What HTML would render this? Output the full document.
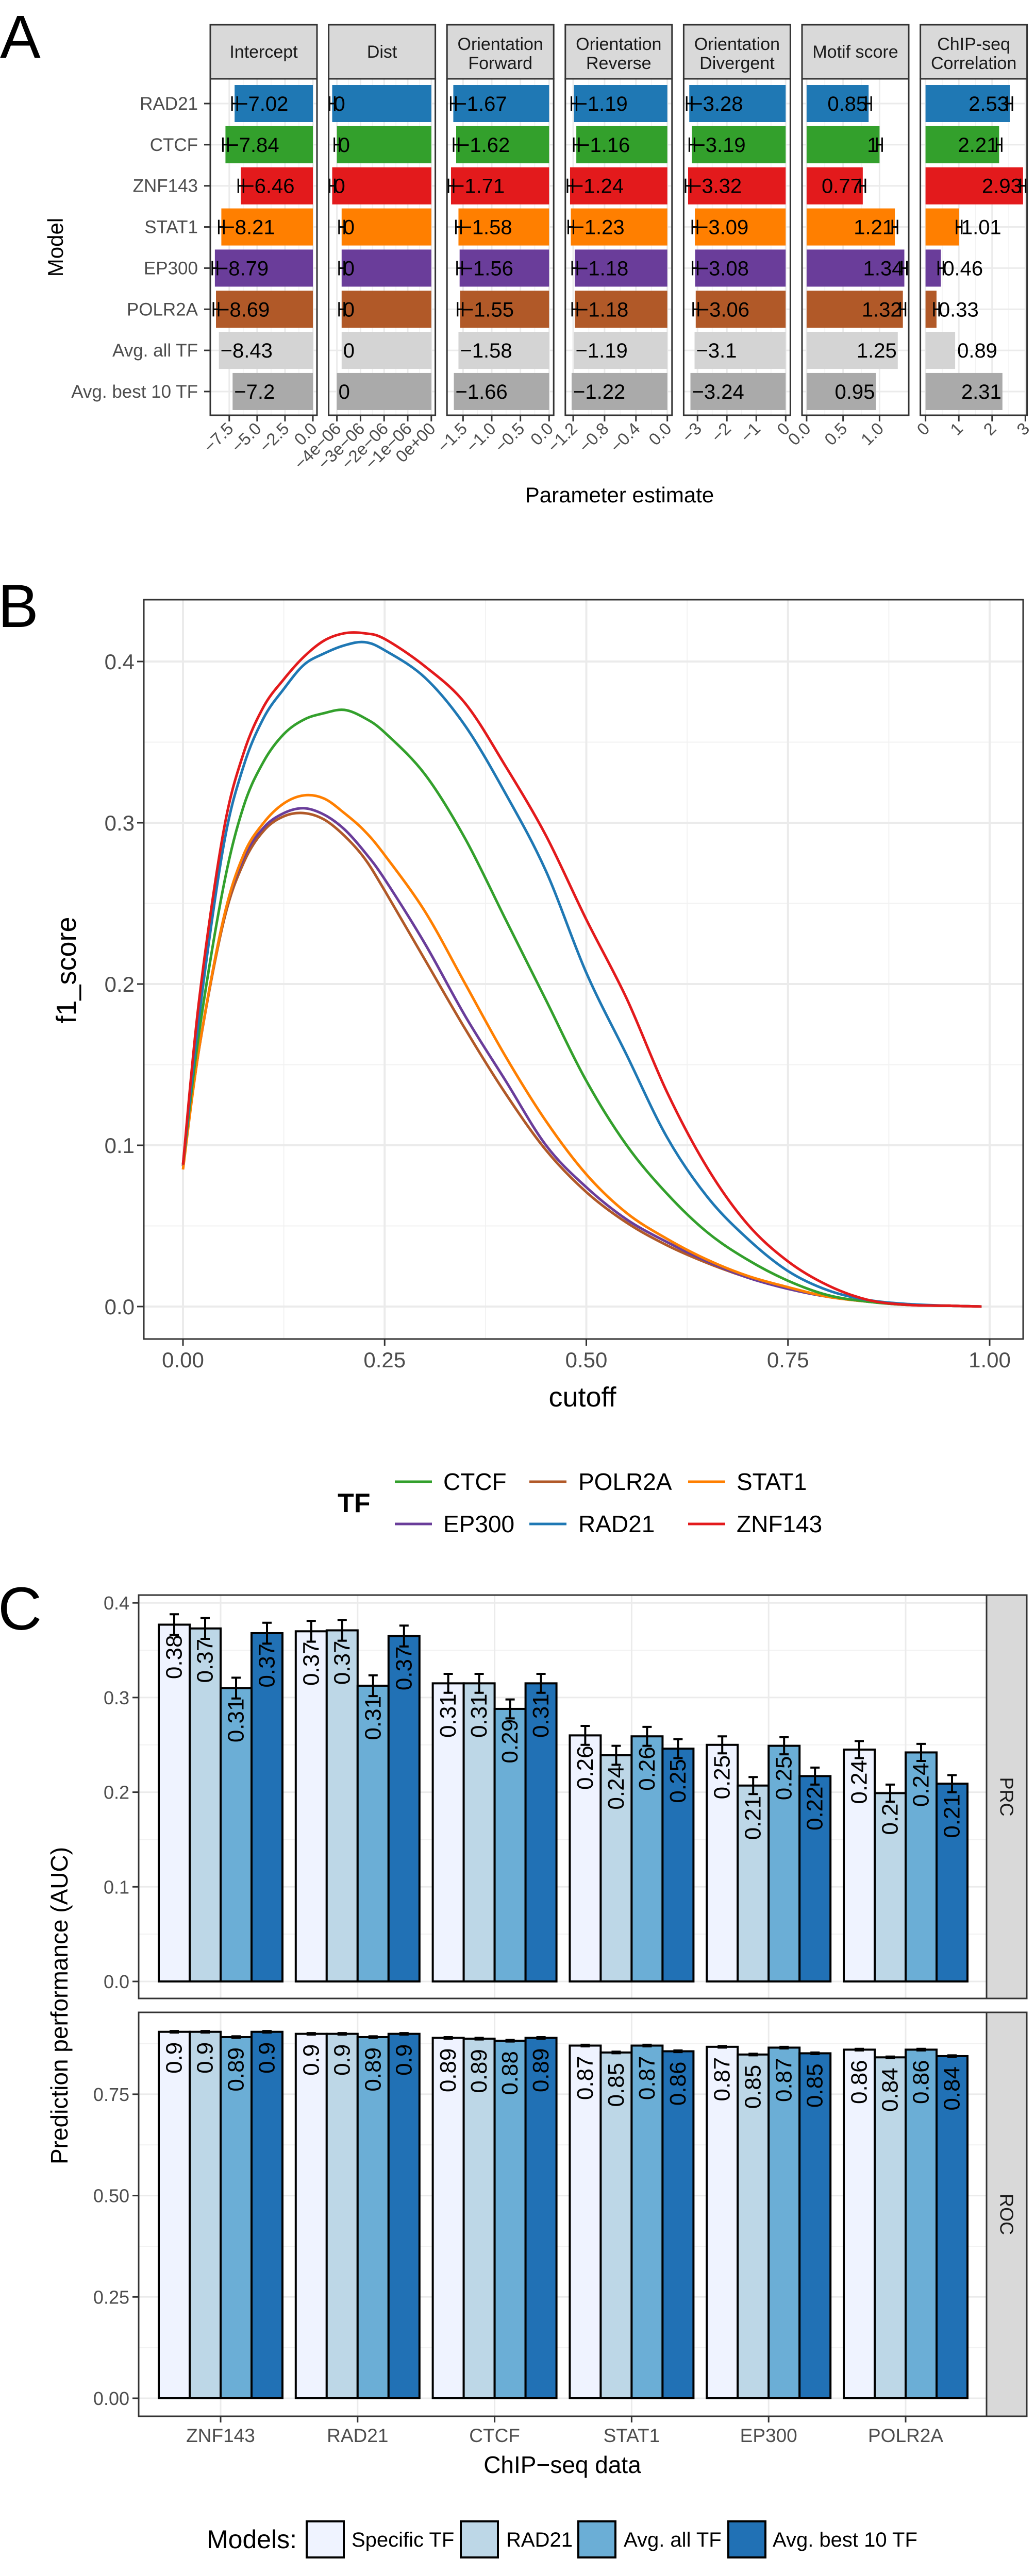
<!DOCTYPE html>
<html><head><meta charset="utf-8">
<style>
html,body{margin:0;padding:0;background:#fff;width:2008px;height:5008px;overflow:hidden;}
svg{display:block;font-family:"Liberation Sans",sans-serif;}
</style></head>
<body>
<svg id="fig" width="2008" height="5008" viewBox="0 0 2008 5008" xmlns="http://www.w3.org/2000/svg">
<rect x="0" y="0" width="2008" height="5008" fill="#fff"/>
<g id="pa"></g>
<g id="pb"></g>
<g id="pc"></g>
</svg>
<script>
// ===== Panel A data =====
const aRows = ["RAD21","CTCF","ZNF143","STAT1","EP300","POLR2A","Avg. all TF","Avg. best 10 TF"];
const aFacets = ["Intercept","Dist","Orientation|Forward","Orientation|Reverse","Orientation|Divergent","Motif score","ChIP-seq|Correlation"];
const aIntercept = [-7.02,-7.84,-6.46,-8.21,-8.79,-8.69,-8.43,-7.2];
const aDist = [-4.2e-6,-4.0e-6,-4.2e-6,-3.8e-6,-3.8e-6,-3.8e-6,-3.8e-6,-4.0e-6];
const aOrientF = [-1.67,-1.62,-1.71,-1.58,-1.56,-1.55,-1.58,-1.66];
const aOrientR = [-1.19,-1.16,-1.24,-1.23,-1.18,-1.18,-1.19,-1.22];
const aOrientD = [-3.28,-3.19,-3.32,-3.09,-3.08,-3.06,-3.1,-3.24];
const aMotif = [0.85,1,0.77,1.21,1.34,1.32,1.25,0.95];
const aChip = [2.53,2.21,2.93,1.01,0.46,0.33,0.89,2.31];
const aDistLabels = ["0","0","0","0","0","0","0","0"];
const aTicksIntercept = [-7.5,-5,-2.5,0];
const aTickLabIntercept = ["−7.5","−5.0","−2.5","0.0"];
const aTicksDist = [-4e-6,-3e-6,-2e-6,-1e-6,0];
const aTickLabDist = ["−4e−06","−3e−06","−2e−06","−1e−06","0e+00"];
const aTicksOF = [-1.5,-1,-0.5,0];
const aTickLabOF = ["−1.5","−1.0","−0.5","0.0"];
const aTicksOR = [-1.2,-0.8,-0.4,0];
const aTickLabOR = ["−1.2","−0.8","−0.4","0.0"];
const aTicksOD = [-3,-2,-1,0];
const aTickLabOD = ["−3","−2","−1","0"];
const aTicksMotif = [0,0.5,1];
const aTickLabMotif = ["0.0","0.5","1.0"];
const aTicksChip = [0,1,2,3];
const aTickLabChip = ["0","1","2","3"];

// ===== Panel B data =====
const bCutoff = [0,0.02,0.05,0.075,0.1,0.125,0.15,0.175,0.2,0.225,0.25,0.3,0.35,0.4,0.45,0.5,0.55,0.6,0.65,0.7,0.75,0.8,0.85,0.9,0.95,0.99];
const bCTCF = [0.088,0.17,0.26,0.31,0.338,0.355,0.364,0.368,0.37,0.365,0.356,0.33,0.29,0.24,0.19,0.14,0.1,0.07,0.046,0.029,0.016,0.007,0.003,0.001,0.0005,0];
const bPOLR2A = [0.087,0.16,0.238,0.275,0.295,0.304,0.306,0.302,0.292,0.278,0.258,0.215,0.172,0.132,0.097,0.071,0.052,0.038,0.027,0.018,0.011,0.006,0.003,0.001,0.0005,0];
const bSTAT1 = [0.085,0.16,0.24,0.28,0.3,0.312,0.317,0.315,0.306,0.295,0.28,0.245,0.2,0.155,0.115,0.082,0.058,0.042,0.029,0.019,0.012,0.006,0.003,0.001,0.0005,0];
const bEP300 = [0.087,0.16,0.24,0.278,0.297,0.306,0.309,0.305,0.296,0.282,0.265,0.225,0.18,0.14,0.1,0.074,0.054,0.04,0.028,0.018,0.011,0.006,0.003,0.001,0.0005,0];
const bRAD21 = [0.088,0.18,0.285,0.335,0.365,0.383,0.398,0.405,0.41,0.412,0.407,0.39,0.36,0.318,0.27,0.207,0.156,0.105,0.068,0.042,0.022,0.01,0.004,0.0015,0.0005,0];
const bZNF143 = [0.088,0.19,0.294,0.343,0.372,0.389,0.403,0.413,0.4175,0.4175,0.414,0.397,0.374,0.335,0.292,0.24,0.191,0.133,0.086,0.051,0.028,0.013,0.004,0.001,0.0005,0];
const bXTicks = [0,0.25,0.5,0.75,1];
const bXTickLabels = ["0.00","0.25","0.50","0.75","1.00"];
const bYTicks = [0,0.1,0.2,0.3,0.4];
const bYTickLabels = ["0.0","0.1","0.2","0.3","0.4"];

// ===== Panel C data =====
const cGroups = ["ZNF143","RAD21","CTCF","STAT1","EP300","POLR2A"];
const cModels = ["Specific TF","RAD21","Avg. all TF","Avg. best 10 TF"];
const cPrcSpecific = [0.377,0.370,0.315,0.260,0.250,0.245];
const cPrcRad21 = [0.373,0.371,0.315,0.239,0.207,0.199];
const cPrcAvgAll = [0.310,0.3125,0.288,0.259,0.249,0.242];
const cPrcBest10 = [0.368,0.365,0.315,0.246,0.217,0.209];
const cPrcErr = [0.011,0.011,0.010,0.010,0.009,0.009];
const cPrcLabSpecific = ["0.38","0.37","0.31","0.26","0.25","0.24"];
const cPrcLabRad21 = ["0.37","0.37","0.31","0.24","0.21","0.2"];
const cPrcLabAvgAll = ["0.31","0.31","0.29","0.26","0.25","0.24"];
const cPrcLabBest10 = ["0.37","0.37","0.31","0.25","0.22","0.21"];
const cRocSpecific = [0.904,0.899,0.889,0.870,0.867,0.860];
const cRocRad21 = [0.904,0.899,0.887,0.853,0.848,0.841];
const cRocAvgAll = [0.891,0.891,0.882,0.870,0.865,0.860];
const cRocBest10 = [0.904,0.899,0.889,0.856,0.851,0.844];
const cRocErr = [0.002,0.002,0.002,0.002,0.002,0.002];
const cRocLabSpecific = ["0.9","0.9","0.89","0.87","0.87","0.86"];
const cRocLabRad21 = ["0.9","0.9","0.89","0.85","0.85","0.84"];
const cRocLabAvgAll = ["0.89","0.89","0.88","0.87","0.87","0.86"];
const cRocLabBest10 = ["0.9","0.9","0.89","0.86","0.85","0.84"];
const cPrcTicks = [0,0.1,0.2,0.3,0.4];
const cPrcTickLabels = ["0.0","0.1","0.2","0.3","0.4"];
const cRocTicks = [0,0.25,0.5,0.75];
const cRocTickLabels = ["0.00","0.25","0.50","0.75"];

const NS = "http://www.w3.org/2000/svg";
function mk(parent, tag, attrs, text){
  const e = document.createElementNS(NS, tag);
  for (const k in attrs) e.setAttribute(k, attrs[k]);
  if (text !== undefined) e.textContent = text;
  parent.appendChild(e);
  return e;
}

// ================= PANEL A =================
(function(){
  const g = document.getElementById('pa');
  const rowColors = ["#1f78b4","#33a02c","#e31a1c","#ff7f00","#6a3d9a","#b15928","#d4d4d4","#aaaaaa"];
  const vals = [aIntercept,aDist,aOrientF,aOrientR,aOrientD,aMotif,aChip];
  const ticks = [aTicksIntercept,aTicksDist,aTicksOF,aTicksOR,aTicksOD,aTicksMotif,aTicksChip];
  const tlabs = [aTickLabIntercept,aTickLabDist,aTickLabOF,aTickLabOR,aTickLabOD,aTickLabMotif,aTickLabChip];
  const domains = [[-9.2,0.37],[-4.35e-6,0.17e-6],[-1.78,0.08],[-1.30,0.06],[-3.47,0.16],[-0.063,1.40],[-0.155,3.05]];
  const top = 153, bottom = 806, stripTop = 48, pw = 207, step = 229.6, x0 = 408;
  const rowY = i => 201 + i*79.85;
  const barH = 72;
  let t = mk(g,'text',{x:0,y:112,'font-size':118,fill:'#000'},'A');
   
  aRows.forEach((r,i)=>{
    let l = mk(g,'text',{x:384,y:rowY(i)+12,'font-size':35,fill:'#4d4d4d','text-anchor':'end'},r);
     
    mk(g,'line',{x1:396,x2:408,y1:rowY(i),y2:rowY(i),stroke:'#333','stroke-width':3});
  });
  let yt = mk(g,'text',{x:0,y:0,'font-size':42,fill:'#000','text-anchor':'middle',transform:'translate(122,480) rotate(-90)'},'Model');
   
  let xt = mk(g,'text',{x:1202,y:975,'font-size':42,fill:'#000','text-anchor':'middle'},'Parameter estimate');
   

  aFacets.forEach((f,fi)=>{
    const px = x0 + fi*step;
    const [d0,d1] = domains[fi];
    const X = v => px + (v-d0)/(d1-d0)*pw;
    const fg = mk(g,'g',{});
     
    mk(fg,'rect',{x:px,y:stripTop,width:pw,height:top-stripTop,fill:'#d9d9d9',stroke:'#333','stroke-width':3});
    const parts = f.split('|');
    parts.forEach((p,pi)=>{
      const yy = parts.length===1 ? 112 : 97 + pi*37;
      let st = mk(fg,'text',{x:px+pw/2,y:yy,'font-size':34,fill:'#1a1a1a','text-anchor':'middle'},p);
       
    });
    mk(fg,'rect',{x:px,y:top,width:pw,height:bottom-top,fill:'#fff'});
    const tk = ticks[fi];
    for (let k=0;k<tk.length-1;k++){
      const m = X((tk[k]+tk[k+1])/2);
      mk(fg,'line',{x1:m,x2:m,y1:top,y2:bottom,stroke:'#f2f2f2','stroke-width':1.5});
    }
    tk.forEach(v=>mk(fg,'line',{x1:X(v),x2:X(v),y1:top,y2:bottom,stroke:'#ebebeb','stroke-width':3}));
    aRows.forEach((r,i)=>mk(fg,'line',{x1:px,x2:px+pw,y1:rowY(i),y2:rowY(i),stroke:'#ebebeb','stroke-width':3}));
    vals[fi].forEach((v,i)=>{
      const a = X(Math.min(0,v)), b = X(Math.max(0,v));
      const bar = mk(fg,'rect',{x:a,y:rowY(i)-barH/2,width:b-a,height:barH,fill:rowColors[i]});
      
      
      if (i<6){
        const xv = X(v);
        mk(fg,'line',{x1:xv-5,x2:xv+5,y1:rowY(i),y2:rowY(i),stroke:'#000','stroke-width':3});
        mk(fg,'line',{x1:xv-5,x2:xv-5,y1:rowY(i)-14,y2:rowY(i)+14,stroke:'#000','stroke-width':3});
        mk(fg,'line',{x1:xv+5,x2:xv+5,y1:rowY(i)-14,y2:rowY(i)+14,stroke:'#000','stroke-width':3});
      }
      let lab = fi===1 ? aDistLabels[i] : String(v).replace('-','−');
      let anchor, lx;
      if (v<0){anchor='start'; lx=X(v)+3;}
      else if (fi===6 && v<1.5){anchor='start'; lx=X(v)+4;}
      else {anchor='end'; lx=X(v)-2;}
      let tl = mk(fg,'text',{x:lx,y:rowY(i)+14,'font-size':40,fill:'#000','text-anchor':anchor},lab);
       
    });
    mk(fg,'rect',{x:px,y:top,width:pw,height:bottom-top,fill:'none',stroke:'#333','stroke-width':3});
    tk.forEach((v,k)=>{
      mk(fg,'line',{x1:X(v),x2:X(v),y1:bottom,y2:bottom+12,stroke:'#333','stroke-width':3});
      let tt = mk(fg,'text',{x:0,y:0,'font-size':33,fill:'#4d4d4d','text-anchor':'end',transform:`translate(${X(v)+10},${bottom+28}) rotate(-45)`},tlabs[fi][k]);
       
    });
  });
})();

// ================= PANEL B =================
(function(){
  const g = document.getElementById('pb');
  const L=279,R=1985,T=1164,B=2599;
  const X = c => 355 + c*1565;
  const Y = v => 2536 - v*3130;
  let t = mk(g,'text',{x:-4,y:1217,'font-size':118,fill:'#000'},'B');
   
  mk(g,'rect',{x:L,y:T,width:R-L,height:B-T,fill:'#fff'});
  for (let k=0;k<bXTicks.length-1;k++){const m=X((bXTicks[k]+bXTicks[k+1])/2);mk(g,'line',{x1:m,x2:m,y1:T,y2:B,stroke:'#f2f2f2','stroke-width':2});}
  for (let k=0;k<bYTicks.length-1;k++){const m=Y((bYTicks[k]+bYTicks[k+1])/2);mk(g,'line',{x1:L,x2:R,y1:m,y2:m,stroke:'#f2f2f2','stroke-width':2});}
  bXTicks.forEach(v=>mk(g,'line',{x1:X(v),x2:X(v),y1:T,y2:B,stroke:'#ebebeb','stroke-width':4}));
  bYTicks.forEach(v=>mk(g,'line',{x1:L,x2:R,y1:Y(v),y2:Y(v),stroke:'#ebebeb','stroke-width':4}));
  const series = [["CTCF",bCTCF,"#33a02c"],["POLR2A",bPOLR2A,"#b15928"],["STAT1",bSTAT1,"#ff7f00"],["EP300",bEP300,"#6a3d9a"],["RAD21",bRAD21,"#1f78b4"],["ZNF143",bZNF143,"#e31a1c"]];
  const order = [1,3,2,0,4,5];
  function smooth(pts){
    let d = 'M'+pts[0][0].toFixed(1)+','+pts[0][1].toFixed(1);
    for (let i=0;i<pts.length-1;i++){
      const p0=pts[Math.max(0,i-1)],p1=pts[i],p2=pts[i+1],p3=pts[Math.min(pts.length-1,i+2)];
      const c1x=p1[0]+(p2[0]-p0[0])/6, c1y=p1[1]+(p2[1]-p0[1])/6;
      const c2x=p2[0]-(p3[0]-p1[0])/6, c2y=p2[1]-(p3[1]-p1[1])/6;
      d+=` C${c1x.toFixed(1)},${c1y.toFixed(1)} ${c2x.toFixed(1)},${c2y.toFixed(1)} ${p2[0].toFixed(1)},${p2[1].toFixed(1)}`;
    }
    return d;
  }
  order.forEach(si=>{
    const [nm,vals,col] = series[si];
    const pts = vals.map((v,i)=>[X(bCutoff[i]),Y(v)]);
    const p = mk(g,'path',{d:smooth(pts),fill:'none',stroke:col,'stroke-width':5,'stroke-linejoin':'round'});
     
  });
  mk(g,'rect',{x:L,y:T,width:R-L,height:B-T,fill:'none',stroke:'#333','stroke-width':3});
  bXTicks.forEach((v,k)=>{
    mk(g,'line',{x1:X(v),x2:X(v),y1:B,y2:B+13,stroke:'#333','stroke-width':3});
    let tt=mk(g,'text',{x:X(v),y:B+55,'font-size':42,fill:'#4d4d4d','text-anchor':'middle'},bXTickLabels[k]);
     
  });
  bYTicks.forEach((v,k)=>{
    mk(g,'line',{x1:L-13,x2:L,y1:Y(v),y2:Y(v),stroke:'#333','stroke-width':3});
    let tt=mk(g,'text',{x:L-18,y:Y(v)+15,'font-size':42,fill:'#4d4d4d','text-anchor':'end'},bYTickLabels[k]);
     
  });
  let xt=mk(g,'text',{x:1130,y:2730,'font-size':54,fill:'#000','text-anchor':'middle'},'cutoff');
   
  let yt=mk(g,'text',{x:0,y:0,'font-size':54,fill:'#000','text-anchor':'middle',transform:'translate(147,1883) rotate(-90)'},'f1_score');
   
  const lg = mk(g,'g',{});
   
  let lt=mk(lg,'text',{x:655,y:2935,'font-size':52,fill:'#000','font-weight':'bold'},'TF');
   
  const cols=[[766,860],[1027,1122],[1335,1429]];
  const rowsY=[2876,2958];
  series.forEach(([nm,vals,col],i)=>{
    const c=cols[i%3], y=rowsY[Math.floor(i/3)];
    const e=mk(lg,'g',{});
     
    mk(e,'line',{x1:c[0],x2:c[0]+72,y1:y,y2:y,stroke:col,'stroke-width':5});
    mk(e,'text',{x:c[1],y:y+16,'font-size':46,fill:'#000'},nm);
  });
})();

// ================= PANEL C =================
(function(){
  const g = document.getElementById('pc');
  const L=269,R=1914;
  const fills=["#eff3ff","#bdd7e7","#6baed6","#2171b5"];
  let t = mk(g,'text',{x:-4,y:3163,'font-size':118,fill:'#000'},'C');
   
  const gx = i => 428 + i*265.8;
  const bw = 60;
  const facets = [
    {name:'PRC',T:3096,B:3879,y0:3846,scale:1837,ticks:cPrcTicks,tl:cPrcTickLabels,vals:[cPrcSpecific,cPrcRad21,cPrcAvgAll,cPrcBest10],labs:[cPrcLabSpecific,cPrcLabRad21,cPrcLabAvgAll,cPrcLabBest10],err:cPrcErr},
    {name:'ROC',T:3906,B:4690,y0:4655,scale:786.8,ticks:cRocTicks,tl:cRocTickLabels,vals:[cRocSpecific,cRocRad21,cRocAvgAll,cRocBest10],labs:[cRocLabSpecific,cRocLabRad21,cRocLabAvgAll,cRocLabBest10],err:cRocErr}
  ];
  facets.forEach(f=>{
    const Y = v => f.y0 - v*f.scale;
    const fg = mk(g,'g',{});
     
    mk(fg,'rect',{x:L,y:f.T,width:R-L,height:f.B-f.T,fill:'#fff'});
    for (let k=0;k<f.ticks.length;k++){
      const nx = k<f.ticks.length-1 ? f.ticks[k+1] : f.ticks[k]+(f.ticks[1]-f.ticks[0]);
      const m=Y((f.ticks[k]+nx)/2);
      if (m>f.T) mk(fg,'line',{x1:L,x2:R,y1:m,y2:m,stroke:'#f2f2f2','stroke-width':2});
    }
    f.ticks.forEach(v=>mk(fg,'line',{x1:L,x2:R,y1:Y(v),y2:Y(v),stroke:'#ebebeb','stroke-width':3}));
    cGroups.forEach((gname,gi)=>mk(fg,'line',{x1:gx(gi),x2:gx(gi),y1:f.T,y2:f.B,stroke:'#ebebeb','stroke-width':3}));
    cGroups.forEach((gname,gi)=>{
      f.vals.forEach((arr,mi)=>{
        const v=arr[gi];
        const bx = gx(gi) - 2*bw + mi*bw;
        const r=mk(fg,'rect',{x:bx,y:Y(v),width:bw,height:Y(0)-Y(v),fill:fills[mi],stroke:'#000','stroke-width':4});
        
        
        const cx=bx+bw/2, e=f.err[gi];
        mk(fg,'line',{x1:cx,x2:cx,y1:Y(v+e),y2:Y(v-e),stroke:'#000','stroke-width':4});
        mk(fg,'line',{x1:cx-9,x2:cx+9,y1:Y(v+e),y2:Y(v+e),stroke:'#000','stroke-width':4});
        mk(fg,'line',{x1:cx-9,x2:cx+9,y1:Y(v-e),y2:Y(v-e),stroke:'#000','stroke-width':4});
        const tl=mk(fg,'text',{x:0,y:0,'font-size':44,fill:'#000','text-anchor':'end','dominant-baseline':'central',transform:`translate(${cx},${Y(v)+20}) rotate(-90)`},f.labs[mi][gi]);
         
      });
    });
    mk(fg,'rect',{x:L,y:f.T,width:R-L,height:f.B-f.T,fill:'none',stroke:'#333','stroke-width':3});
    mk(fg,'rect',{x:R,y:f.T,width:78,height:f.B-f.T,fill:'#d9d9d9',stroke:'#333','stroke-width':3});
    const sl=mk(fg,'text',{x:0,y:0,'font-size':36,fill:'#1a1a1a','text-anchor':'middle','dominant-baseline':'central',transform:`translate(${R+39},${(f.T+f.B)/2}) rotate(90)`},f.name);
     
    f.ticks.forEach((v,k)=>{
      mk(fg,'line',{x1:L-12,x2:L,y1:Y(v),y2:Y(v),stroke:'#333','stroke-width':3});
      const tt=mk(fg,'text',{x:L-18,y:Y(v)+13,'font-size':36,fill:'#4d4d4d','text-anchor':'end'},f.tl[k]);
       
    });
  });
  cGroups.forEach((gname,gi)=>{
    mk(g,'line',{x1:gx(gi),x2:gx(gi),y1:4690,y2:4702,stroke:'#333','stroke-width':3});
    const tt=mk(g,'text',{x:gx(gi),y:4740,'font-size':37,fill:'#4d4d4d','text-anchor':'middle'},gname);
     
  });
  let xt=mk(g,'text',{x:1091,y:4800,'font-size':46,fill:'#000','text-anchor':'middle'},'ChIP−seq data');
   
  let yt=mk(g,'text',{x:0,y:0,'font-size':46,fill:'#000','text-anchor':'middle',transform:'translate(131,3893) rotate(-90)'},'Prediction performance (AUC)');
   
  const lg=mk(g,'g',{});
   
  let lt=mk(lg,'text',{x:401,y:4946,'font-size':50,fill:'#000'},'Models:');
   
  const keys=[[595,682],[894,982],[1122,1210],[1413,1499]];
  cModels.forEach((m,i)=>{
    const e=mk(lg,'g',{});
     
    mk(e,'rect',{x:keys[i][0],y:4894,width:72,height:70,fill:fills[i],stroke:'#000','stroke-width':4});
    mk(e,'text',{x:keys[i][1],y:4943,'font-size':40,fill:'#000'},m);
  });
})();
</script>
</body></html>
